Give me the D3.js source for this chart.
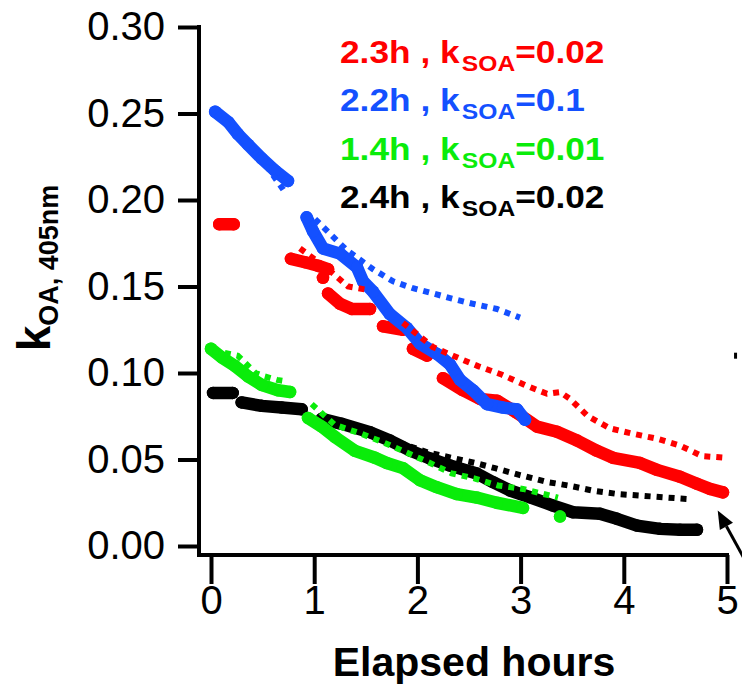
<!DOCTYPE html>
<html>
<head>
<meta charset="utf-8">
<script src="https://cdn.jsdelivr.net/npm/d3@7"></script>
<style>
  html, body { margin: 0; padding: 0; background: #fff; }
  svg { display: block; font-family: "Liberation Sans", Arial, Helvetica, sans-serif; }
</style>
</head>
<body>
<svg id="chart" width="742" height="688"></svg>
<script>
// Axis ticks
const xTicks = [0, 1, 2, 3, 4, 5];
const yTicks = [0, 0.05, 0.10, 0.15, 0.20, 0.25, 0.30];

// Measured k_OA traces: [elapsed hours, k]; null splits the trace into separate runs
const redMeasured = [
  [0.08, 0.186], [0.22, 0.186], null,
  [0.775, 0.166], [0.911, 0.164], [1.037, 0.162], [1.134, 0.160], null,
  [1.085, 0.155], null,
  [1.134, 0.146], [1.250, 0.140], [1.366, 0.137], [1.541, 0.137], null,
  [1.667, 0.127], [1.860, 0.125], null,
  [1.957, 0.114], [2.093, 0.110], null,
  [2.248, 0.097], [2.442, 0.090], [2.607, 0.085], [2.771, 0.084], [2.965, 0.077],
  [3.159, 0.069], [3.353, 0.066], [3.547, 0.061], [3.740, 0.055], [3.895, 0.051],
  [4.157, 0.048], [4.322, 0.044], [4.545, 0.040], [4.709, 0.036], [4.835, 0.033], [4.961, 0.031]
];
const blueMeasured = [
  [0.04, 0.251], [0.168, 0.245], [0.262, 0.238], [0.359, 0.232], [0.491, 0.224], [0.620, 0.217], [0.746, 0.211], null,
  [0.927, 0.190], [0.988, 0.182], [1.085, 0.172], [1.250, 0.169], [1.415, 0.161], [1.473, 0.153],
  [1.570, 0.147], [1.734, 0.134], [1.899, 0.126], [2.025, 0.117], [2.190, 0.111], [2.316, 0.105],
  [2.413, 0.096], [2.539, 0.090], [2.674, 0.082], [2.829, 0.080], [2.965, 0.079], [3.043, 0.073]
];
const greenMeasured = [
  [0.0, 0.114], [0.104, 0.109], [0.233, 0.104], [0.359, 0.098], [0.494, 0.093], [0.649, 0.090], [0.766, 0.089], null,
  [0.940, 0.074], [1.073, 0.069], [1.202, 0.063], [1.395, 0.055], [1.589, 0.051], [1.703, 0.048],
  [1.860, 0.045], [2.025, 0.038], [2.187, 0.034], [2.381, 0.030], [2.575, 0.028], [2.769, 0.025], [3.023, 0.022], null,
  [3.382, 0.017]
];
const blackMeasured = [
  [0.02, 0.0885], [0.21, 0.0885], null,
  [0.297, 0.083], [0.491, 0.081], [0.685, 0.080], [0.879, 0.079], null,
  [1.073, 0.0735], [1.266, 0.0706], [1.541, 0.0658], [1.734, 0.061], [1.928, 0.0552], [2.122, 0.0506],
  [2.316, 0.0465], [2.575, 0.0419], [2.733, 0.0369], [2.897, 0.0321], [3.091, 0.0282], [3.314, 0.0234],
  [3.508, 0.0195], [3.769, 0.0186], [3.934, 0.0157], [4.128, 0.0118], [4.351, 0.0099], [4.545, 0.0094], [4.709, 0.0094]
];

// Modelled k_OA (dotted)
const redModel = [
  [0.862, 0.172], [1.134, 0.160], [1.328, 0.150], [1.521, 0.148], null,
  [1.860, 0.129], [2.151, 0.115], [2.345, 0.110], [2.587, 0.104], [2.820, 0.099], [3.043, 0.093],
  [3.256, 0.088], [3.382, 0.089], [3.479, 0.085], [3.653, 0.075], [3.866, 0.068], [4.079, 0.065],
  [4.322, 0.062], [4.545, 0.058], [4.758, 0.052], [4.981, 0.051]
];
const blueModel = [
  [0.05, 0.250], [0.30, 0.236], [0.50, 0.223], [0.70, 0.206], null,
  [1.008, 0.189], [1.315, 0.171], [1.570, 0.160], [1.764, 0.153], [1.957, 0.149], [2.151, 0.146],
  [2.335, 0.143], [2.539, 0.140], [2.771, 0.137], [2.994, 0.132]
];
const greenModel = [
  [0.02, 0.113], [0.26, 0.110], [0.43, 0.100], [0.52, 0.098], [0.64, 0.096], [0.746, 0.095], null,
  [0.976, 0.082], [1.20, 0.070], [1.45, 0.065], [1.667, 0.060], [1.896, 0.054], [2.122, 0.048],
  [2.332, 0.042], [2.558, 0.039], [2.781, 0.035], [3.023, 0.033], [3.362, 0.028]
];
const blackModel = [
  [1.056, 0.076], [1.606, 0.063], [1.860, 0.059], [2.103, 0.054], [2.332, 0.051], [2.558, 0.048],
  [2.752, 0.045], [2.994, 0.041], [3.256, 0.037], [3.459, 0.035], [3.702, 0.032], [3.944, 0.030],
  [4.186, 0.029], [4.419, 0.028], [4.661, 0.027]
];

// Legend entries: lifetime, k_SOA
const legendLabels = ["2.3h , k", "2.2h , k", "1.4h , k", "2.4h , k"];
const legendValues = ["=0.02", "=0.1", "=0.01", "=0.02"];

const colors = { red: "#ff0000", blue: "#1450ff", green: "#0aec0a", black: "#000000" };
const legendColors = [colors.red, colors.blue, colors.green, colors.black];

// Arrow annotation and stray tick, in data units
const arrowTip = [4.91, 0.0205];
const arrowTail = [5.22, -0.013];
const strayTick = [5.078, 0.110];

const svg = d3.select("#chart");

const x = d3.scaleLinear().domain([0, 5]).range([211, 727]);
const y = d3.scaleLinear().domain([0, 0.30]).range([546, 27]);

const axisX = 199, axisY = 555;

// ---- axes ----
const gy = svg.append("g")
  .attr("transform", `translate(${axisX},0)`)
  .call(d3.axisLeft(y).tickValues(yTicks).tickFormat(d3.format(".2f")).tickSize(21).tickPadding(13));
gy.select(".domain").remove();
gy.selectAll(".tick line").attr("stroke", "#000").attr("stroke-width", 4);
gy.selectAll(".tick text").attr("font-size", 40).attr("fill", "#000").attr("font-family", null);

const gx = svg.append("g")
  .attr("transform", `translate(0,${axisY})`)
  .call(d3.axisBottom(x).tickValues(xTicks).tickFormat(d3.format("d")).tickSize(29).tickPadding(2));
gx.select(".domain").remove();
gx.selectAll(".tick line").attr("stroke", "#000").attr("stroke-width", 4);
gx.selectAll(".tick text").attr("font-size", 40).attr("fill", "#000").attr("font-family", null);

svg.append("line").attr("x1", axisX).attr("x2", axisX).attr("y1", y(0.30) - 2).attr("y2", axisY + 2)
  .attr("stroke", "#000").attr("stroke-width", 4);
svg.append("line").attr("x1", axisX - 2).attr("x2", x(5) + 2).attr("y1", axisY).attr("y2", axisY)
  .attr("stroke", "#000").attr("stroke-width", 4);

// axis titles
svg.append("text")
  .attr("x", (x(0) + x(5)) / 2 + 5).attr("y", 676)
  .attr("text-anchor", "middle").attr("font-size", 41).attr("font-weight", "bold")
  .text("Elapsed hours");

const yTitle = svg.append("text")
  .attr("transform", "translate(50,268) rotate(-90)")
  .attr("text-anchor", "middle").attr("font-weight", "bold");
yTitle.append("tspan").attr("font-size", 46).text("k");
yTitle.append("tspan").attr("font-size", 27).attr("dy", 8).text("OA, 405nm");

// ---- traces ----
const line = d3.line()
  .defined(d => d !== null)
  .x(d => x(d[0]))
  .y(d => y(d[1]));

const plot = svg.append("g");

function drawMeasured(data, color) {
  plot.append("path")
    .attr("d", line(data))
    .attr("fill", "none").attr("stroke", color)
    .attr("stroke-width", 12.5).attr("stroke-linecap", "round").attr("stroke-linejoin", "round");
  plot.append("g").selectAll("circle")
    .data(data.filter(d => d !== null))
    .join("circle")
    .attr("cx", d => x(d[0])).attr("cy", d => y(d[1])).attr("r", 6.25)
    .attr("fill", color);
}

function drawModel(data, color) {
  plot.append("path")
    .attr("d", line(data))
    .attr("fill", "none").attr("stroke", color)
    .attr("stroke-width", 6).attr("stroke-dasharray", "6,6");
}

drawMeasured(blackMeasured, colors.black);
drawMeasured(greenMeasured, colors.green);
drawMeasured(redMeasured, colors.red);
drawMeasured(blueMeasured, colors.blue);

drawModel(blackModel, colors.black);
drawModel(greenModel, colors.green);
drawModel(redModel, colors.red);
drawModel(blueModel, colors.blue);

// ---- legend ----
const legend = svg.append("g");
legendLabels.forEach((lab, i) => {
  const row = legend.append("g")
    .attr("transform", `translate(340,${63 + i * 48.3}) scale(1.12,1)`);
  const t = row.append("text")
    .attr("font-size", 31.5).attr("font-weight", "bold").attr("fill", legendColors[i])
    .style("white-space", "pre");
  t.append("tspan").text(lab);
  t.append("tspan").attr("font-size", 22).attr("dx", 2).attr("dy", 8).text("SOA");
  t.append("tspan").attr("dy", -8).text(legendValues[i]);
});

// ---- arrow annotation ----
const tip = [x(arrowTip[0]), y(arrowTip[1])];
const tail = [x(arrowTail[0]), y(arrowTail[1])];
const dx = tip[0] - tail[0], dy = tip[1] - tail[1];
const len = Math.hypot(dx, dy), ux = dx / len, uy = dy / len;
const headLen = 18, headHalf = 7.5;
const base = [tip[0] - ux * headLen, tip[1] - uy * headLen];
svg.append("line")
  .attr("x1", tail[0]).attr("y1", tail[1]).attr("x2", base[0]).attr("y2", base[1])
  .attr("stroke", "#000").attr("stroke-width", 3);
svg.append("path")
  .attr("d", `M${tip[0]},${tip[1]}L${base[0] - uy * headHalf},${base[1] + ux * headHalf}L${base[0] + uy * headHalf},${base[1] - ux * headHalf}Z`)
  .attr("fill", "#000");

svg.append("rect")
  .attr("x", x(strayTick[0]) - 1).attr("y", y(strayTick[1]) - 3)
  .attr("width", 3).attr("height", 6).attr("fill", "#000");
</script>
</body>
</html>
